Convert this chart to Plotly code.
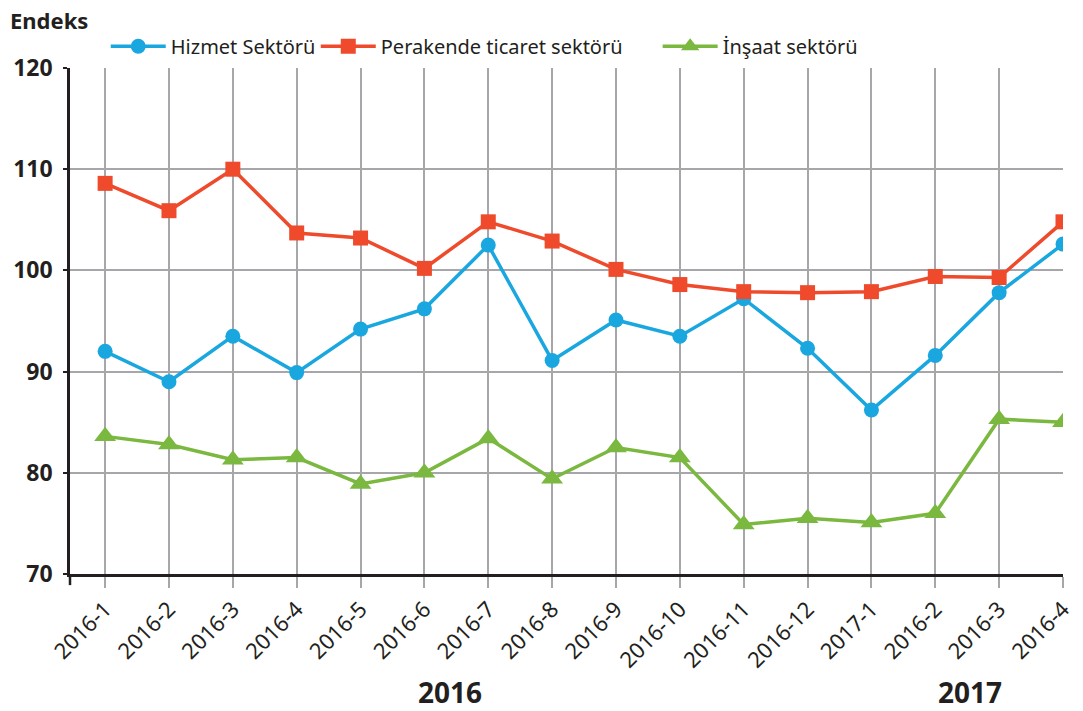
import plotly.graph_objects as go

categories = ["2016-1", "2016-2", "2016-3", "2016-4", "2016-5", "2016-6", "2016-7", "2016-8",
              "2016-9", "2016-10", "2016-11", "2016-12", "2017-1", "2016-2 ", "2016-3 ", "2016-4 "]
tick_labels = ["2016-1", "2016-2", "2016-3", "2016-4", "2016-5", "2016-6", "2016-7", "2016-8",
               "2016-9", "2016-10", "2016-11", "2016-12", "2017-1", "2016-2", "2016-3", "2016-4"]
hizmet = [92.0, 89.0, 93.5, 89.9, 94.2, 96.2, 102.5, 91.1, 95.1, 93.5, 97.2, 92.3, 86.2, 91.6, 97.8, 102.6]
perakende = [108.6, 105.9, 110.0, 103.7, 103.2, 100.2, 104.8, 102.9, 100.1, 98.6, 97.9, 97.8, 97.9, 99.4, 99.3, 104.8]
insaat = [83.6, 82.8, 81.3, 81.5, 78.9, 80.0, 83.4, 79.4, 82.5, 81.5, 74.9, 75.5, 75.1, 76.0, 85.3, 85.0]
names = ["Hizmet Sektörü", "Perakende ticaret sektörü", "İnşaat sektörü"]
years = ["2016", "2017"]

FONT = "Noto Sans"
TXT = "#231f20"
fig = go.Figure()
fig.add_trace(go.Scatter(x=categories, y=hizmet, name=names[0], mode="lines+markers",
                         legend="legend",
                         line=dict(color="#1aa7e0", width=3.5),
                         marker=dict(symbol="circle", size=15, color="#1aa7e0")))
fig.add_trace(go.Scatter(x=categories, y=perakende, name=names[1], mode="lines+markers",
                         legend="legend2",
                         line=dict(color="#ee4a2b", width=3.5),
                         marker=dict(symbol="square", size=15, color="#ee4a2b")))
fig.add_trace(go.Scatter(x=categories, y=insaat, name=names[2], mode="lines+markers",
                         legend="legend3",
                         line=dict(color="#7ab840", width=3.5),
                         marker=dict(symbol="triangle-up", size=19, color="#7ab840")))

def leg(x):
    return dict(orientation="h", x=x, xanchor="left", y=1.043, yanchor="middle",
                itemwidth=55,
                font=dict(size=20, family=FONT, color=TXT), bgcolor="rgba(0,0,0,0)")

fig.update_layout(
    width=1083, height=711,
    margin=dict(l=70, r=20, t=68, b=137, autoexpand=False),
    paper_bgcolor="white", plot_bgcolor="white",
    font=dict(family=FONT, color=TXT),
    showlegend=True,
    legend=leg(0.036), legend2=leg(0.2475), legend3=leg(0.5918),
    xaxis=dict(type="category", categoryorder="array", categoryarray=categories,
               tickvals=categories, ticktext=tick_labels,
               range=[-0.55, 15], showgrid=True, gridcolor="#a7a7ab", gridwidth=2,
               showline=True, linecolor=TXT, linewidth=2.5,
               ticks="outside", ticklen=11, tickwidth=2, tickcolor="#a7a7ab",
               tickangle=-45, tickfont=dict(size=22, family=FONT, color=TXT)),
    yaxis=dict(range=[70, 120], dtick=10, showgrid=True, gridcolor="#a7a7ab", gridwidth=2,
               showline=True, linecolor=TXT, linewidth=2.5,
               ticks="outside", ticklen=4, tickwidth=2, tickcolor=TXT,
               ticklabelstandoff=6,
               tickfont=dict(size=23, family=FONT, color=TXT, weight="bold"),
               zeroline=False),
    shapes=[dict(type="line", xref="paper", yref="paper", x0=0, x1=0, y0=0, y1=-0.022,
                 line=dict(color=TXT, width=2.5))],
    annotations=[
        dict(text="Endeks", xref="paper", yref="paper", x=-0.0624, y=1.095, xanchor="left",
             yanchor="middle", showarrow=False,
             font=dict(size=22, family=FONT, color=TXT, weight="bold")),
        dict(text=years[0], xref="x", yref="paper", x=5.4, y=-0.233, xanchor="center",
             yanchor="middle", showarrow=False,
             font=dict(size=28, family=FONT, color=TXT, weight="bold")),
        dict(text=years[1], xref="x", yref="paper", x=13.55, y=-0.233, xanchor="center",
             yanchor="middle", showarrow=False,
             font=dict(size=28, family=FONT, color=TXT, weight="bold")),
    ],
)

fig.write_html("out.html", config={"displayModeBar": False},
               post_script="document.body.style.margin='0';document.body.style.overflow='hidden';")
